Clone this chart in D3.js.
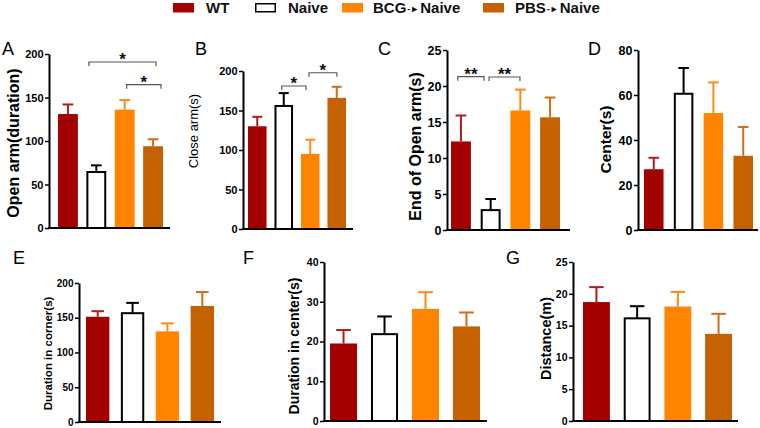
<!DOCTYPE html>
<html><head><meta charset="utf-8">
<script src="https://cdn.jsdelivr.net/npm/d3@7"></script>
<style>
body{margin:0;background:#fff}
svg{display:block}
text{font-family:"Liberation Sans",Arial,Helvetica,sans-serif}
</style>
</head><body>
<svg id="chart" width="760" height="428"></svg>
<script>
// ---------- data ----------
const groups = ["WT", "Naive", "BCG→Naive", "PBS→Naive"];
const groupColors = ["#a30000", "#ffffff", "#ff8500", "#c46100"];
const errColors = ["#b01d1d", "#000000", "#ff8a10", "#cf6d18"];

const openArmMean = [131, 65.5, 136, 94];
const openArmSem = [11, 6.5, 11, 8];
const openArmTicks = [0, 50, 100, 150, 200];

const closeArmMean = [130, 157, 95, 166];
const closeArmSem = [12, 15, 18, 14];
const closeArmTicks = [0, 50, 100, 150, 200];

const endOpenMean = [12.3, 2.9, 16.6, 15.65];
const endOpenSem = [3.6, 1.4, 2.9, 2.75];
const endOpenTicks = [0, 5, 10, 15, 20, 25];

const centerMean = [27, 61, 52, 33];
const centerSem = [5.1, 11, 13.6, 12.8];
const centerTicks = [0, 20, 40, 60, 80];

const cornerDurMean = [151.4, 158, 130.4, 167];
const cornerDurSem = [8, 13.4, 11.5, 20];
const cornerDurTicks = [0, 50, 100, 150, 200];

const centerDurMean = [19.5, 22.1, 28.2, 23.8];
const centerDurSem = [3.4, 4.2, 4.2, 3.5];
const centerDurTicks = [0, 10, 20, 30, 40];

const distanceMean = [18.7, 16.3, 18.0, 13.7];
const distanceSem = [2.35, 1.75, 2.3, 3.15];
const distanceTicks = [0, 5, 10, 15, 20, 25];

// significance brackets: [groupA, groupB, level (data units), label]
const openArmSig = [[1, 3, 190.8, "*"], [2, 3, 164.7, "*"]];
const closeArmSig = [[1, 2, 181, "*"], [2, 3, 197.8, "*"]];
const endOpenSig = [[0, 1, 21.3, "**"], [1, 2, 21.25, "**"]];

// ---------- layout (pixels) ----------
const panels = [
  {letter:"A", lx:2, ly:55, mean:openArmMean, sem:openArmSem, ticks:openArmTicks, ylabel:"Open arm(duration)",
   ax:49, y0:228, yTop:54, bL:58, bR:163, aEnd:170, pad:0.3, labX:13.5, labY:143, labSize:16, labW:"bold", tickFs:11,
   sig:openArmSig, sigFr:[[0.13,0.65],[0.6,0.9]]},
  {letter:"B", lx:195, ly:55, mean:closeArmMean, sem:closeArmSem, ticks:closeArmTicks, ylabel:"Close arm(s)",
   ax:243, y0:229, yTop:71, bL:248, bR:346, aEnd:353, pad:0.3, labX:193, labY:131, labSize:13, labW:"normal", tickFs:11,
   sig:closeArmSig, sigFr:[[0.39,0.27],[0.43,0.51]]},
  {letter:"C", lx:378, ly:55, mean:endOpenMean, sem:endOpenSem, ticks:endOpenTicks, ylabel:"End of Open arm(s)",
   ax:447, y0:230, yTop:50, bL:451, bR:560, aEnd:570, pad:0.33, labX:415, labY:146.5, labSize:16, labW:"bold", tickFs:12.5,
   sig:endOpenSig, sigFr:[[0.34,0.17],[0.42,0.48]]},
  {letter:"D", lx:588, ly:55, mean:centerMean, sem:centerSem, ticks:centerTicks, ylabel:"Center(s)",
   ax:638, y0:230, yTop:50, bL:644, bR:753, aEnd:758, pad:0.345, labX:605, labY:139.5, labSize:15.5, labW:"bold", tickFs:12.5,
   sig:[], sigFr:[]},
  {letter:"E", lx:13, ly:264, mean:cornerDurMean, sem:cornerDurSem, ticks:cornerDurTicks, ylabel:"Duration in corner(s)",
   ax:79, y0:422, yTop:283, bL:86, bR:214, aEnd:221, pad:0.33, labX:48, labY:353.5, labSize:11.5, labW:"bold", tickFs:10,
   sig:[], sigFr:[]},
  {letter:"F", lx:243, ly:264, mean:centerDurMean, sem:centerDurSem, ticks:centerDurTicks, ylabel:"Duration in center(s)",
   ax:324, y0:421, yTop:262, bL:330, bR:480, aEnd:487, pad:0.34, labX:293.5, labY:346, labSize:14, labW:"bold", tickFs:10.5,
   sig:[], sigFr:[]},
  {letter:"G", lx:506, ly:264, mean:distanceMean, sem:distanceSem, ticks:distanceTicks, ylabel:"Distance(m)",
   ax:573, y0:421, yTop:262, bL:583, bR:732, aEnd:738, pad:0.34, labX:546, labY:338.5, labSize:14.5, labW:"bold", tickFs:10.5,
   sig:[], sigFr:[]}
];

const svg = d3.select("#chart");

// ---------- legend ----------
const legendRectX = [173, 255, 342, 483];
const legendTextX = [206, 288, 373, 515];
const leg = svg.append("g");
groups.forEach((g, i) => {
  leg.append("rect").attr("x", legendRectX[i] + (i === 1 ? 0.75 : 0)).attr("y", 3 + (i === 1 ? 0.75 : 0))
    .attr("width", 21 - (i === 1 ? 1.5 : 0)).attr("height", 9.5 - (i === 1 ? 1.5 : 0))
    .attr("fill", groupColors[i]).attr("stroke", i === 1 ? "#000" : "none").attr("stroke-width", 1.5);
  const t = leg.append("text").attr("x", legendTextX[i]).attr("y", 13)
    .attr("font-size", 15).attr("font-weight", "bold").attr("fill", "#111");
  const parts = g.split("→");
  if (parts.length === 2) {
    t.append("tspan").text(parts[0]);
    t.append("tspan").attr("font-size", 9).attr("dy", -1.5).attr("dx", 1).text("‑►");
    t.append("tspan").attr("dy", 1.5).attr("dx", 1).text(parts[1]);
  } else {
    t.text(g);
  }
});

// ---------- panels ----------
panels.forEach(p => {
  const g = svg.append("g");
  const x = d3.scaleBand().domain(groups).range([p.bL, p.bR]).paddingInner(p.pad).paddingOuter(0);
  const y = d3.scaleLinear().domain([0, d3.max(p.ticks)]).range([p.y0, p.yTop]);
  const bw = x.bandwidth();

  // bars
  groups.forEach((grp, i) => {
    const isNaive = i === 1;
    const top = y(p.mean[i]);
    if (isNaive) {
      g.append("rect").attr("x", x(grp) + 1).attr("y", top + 1)
        .attr("width", bw - 2).attr("height", p.y0 - top - 1)
        .attr("fill", "#fff").attr("stroke", "#000").attr("stroke-width", 2);
    } else {
      g.append("rect").attr("x", x(grp)).attr("y", top)
        .attr("width", bw).attr("height", p.y0 - top)
        .attr("fill", groupColors[i]);
    }
    // error bar (upper only)
    const cx = x(grp) + bw / 2;
    const eTop = y(p.mean[i] + p.sem[i]);
    g.append("line").attr("x1", cx).attr("x2", cx).attr("y1", top + (isNaive ? 1 : 0)).attr("y2", eTop)
      .attr("stroke", errColors[i]).attr("stroke-width", 2);
    g.append("line").attr("x1", cx - bw * 0.27).attr("x2", cx + bw * 0.27).attr("y1", eTop).attr("y2", eTop)
      .attr("stroke", errColors[i]).attr("stroke-width", 2);
  });

  // y axis
  const axis = d3.axisLeft(y).tickValues(p.ticks).tickSize(4).tickSizeOuter(0).tickPadding(1.5);
  const ag = g.append("g").attr("transform", `translate(${p.ax},0)`).call(axis);
  ag.select(".domain").attr("stroke", "#000").attr("stroke-width", 2);
  ag.selectAll(".tick line").attr("stroke", "#000").attr("stroke-width", 1.5);
  ag.selectAll(".tick text").attr("font-size", p.tickFs).attr("font-weight", "bold").attr("fill", "#000")
    .attr("font-family", "'Liberation Sans',Arial,sans-serif");

  // x axis baseline
  g.append("line").attr("x1", p.ax - 1).attr("x2", p.aEnd).attr("y1", p.y0).attr("y2", p.y0)
    .attr("stroke", "#000").attr("stroke-width", 2);

  // y label
  g.append("text").attr("transform", `translate(${p.labX},${p.labY}) rotate(-90)`)
    .attr("text-anchor", "middle").attr("dy", "0.36em")
    .attr("font-size", p.labSize).attr("font-weight", p.labW).attr("fill", "#000").text(p.ylabel);

  // panel letter
  g.append("text").attr("x", p.lx).attr("y", p.ly).attr("font-size", 18).attr("fill", "#000").text(p.letter);

  // significance brackets
  p.sig.forEach((s, k) => {
    const [a, b, lvl, lab] = s;
    const fr = p.sigFr[k];
    const x1 = x(groups[a]) + fr[0] * bw;
    const x2 = x(groups[b]) + fr[1] * bw;
    const yy = y(lvl);
    g.append("path").attr("d", `M${x1},${yy + 4}V${yy}H${x2}V${yy + 4}`)
      .attr("fill", "none").attr("stroke", "#555").attr("stroke-width", 1.2);
    g.append("text").attr("x", (x1 + x2) / 2).attr("y", yy + 3).attr("text-anchor", "middle")
      .attr("font-size", 17).attr("font-weight", "bold").attr("fill", "#111").text(lab);
  });
});
</script>
</body></html>
